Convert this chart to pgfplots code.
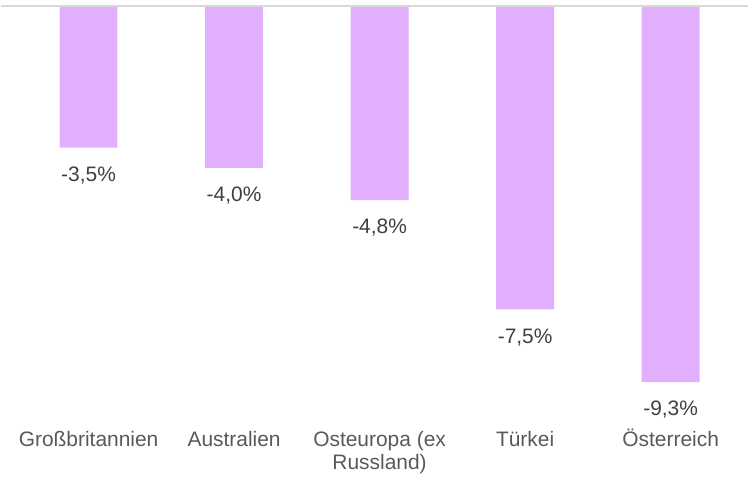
\documentclass[border=0pt]{standalone}
\usepackage{fontspec}
\setmainfont{Liberation Sans}
\usepackage{pgfplots}
\pgfplotsset{compat=1.18}
\definecolor{barviolet}{HTML}{E2AFFF}
\definecolor{valgray}{HTML}{404040}
\definecolor{catgray}{HTML}{595959}
\definecolor{basegray}{HTML}{D9D9D9}

\begin{document}
\fontsize{21}{23}\selectfont
\begin{tikzpicture}
\begin{axis}[
scale only axis,
width=749pt, height=476pt,
xmin=-0.6, xmax=4.53,
ymin=-11.58, ymax=0.15,
hide y axis,
axis x line*=bottom,
x axis line style={draw=none},
xtick style={draw=none},
clip=false,
xtick={0,1,2,3,4},
xticklabels={\vphantom{Ö}Großbritannien,\vphantom{Ö}Australien,{\vphantom{Ö}Osteuropa (ex\\Russland)},\vphantom{Ö}Türkei,Österreich},
xticklabel style={align=center, text=catgray, anchor=north, yshift=53pt},
]
\path (rel axis cs:0,0) rectangle (rel axis cs:1,1);
\addplot[ybar, bar width=58pt, fill=barviolet, draw=none,
  nodes near coords, point meta=explicit symbolic,
  every node near coord/.append style={text=valgray, anchor=north, yshift=-12pt}]
coordinates {
(0,-3.5) [-3,5\%]
(1,-4.0) [-4,0\%]
(2,-4.8) [-4,8\%]
(3,-7.5) [-7,5\%]
(4,-9.3) [-9,3\%]
};
\addplot[basegray, line width=2.5pt, forget plot] coordinates {(-0.6,0) (4.53,0)};
\end{axis}
\end{tikzpicture}
\end{document}
